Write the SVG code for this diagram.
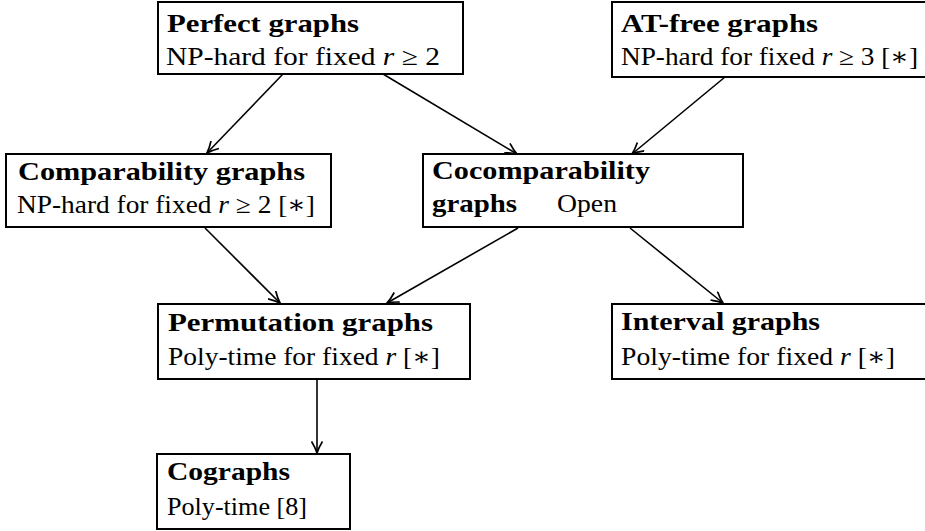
<svg xmlns="http://www.w3.org/2000/svg" width="925" height="531" viewBox="0 0 925 531">
<defs>
<style>
.box{fill:#fff;stroke:#000;stroke-width:2}
.t{font-family:"Liberation Serif","DejaVu Serif",serif;font-size:25px;fill:#000}
.b{font-weight:bold}
.e{stroke:#000;stroke-width:1.6;fill:none;marker-end:url(#ah)}
</style>
<marker id="ah" viewBox="0 0 13 12" refX="12" refY="6" markerWidth="13" markerHeight="12" markerUnits="userSpaceOnUse" orient="auto">
<path d="M0.5,0.5 Q7,4.5 12,6 Q7,7.5 0.5,11.5" fill="none" stroke="#000" stroke-width="1.7"/>
</marker>
</defs>
<rect width="925" height="531" fill="#fff"/>
<g id="connectors">
<line class="e" x1="283" y1="74" x2="207" y2="153"/>
<line class="e" x1="383" y1="74" x2="517" y2="154"/>
<line class="e" x1="725" y1="77" x2="632" y2="154"/>
<line class="e" x1="205" y1="228" x2="280" y2="303"/>
<line class="e" x1="518" y1="228" x2="387" y2="303"/>
<line class="e" x1="630" y1="228" x2="723" y2="303"/>
<line class="e" x1="317" y1="380" x2="317" y2="453"/>
</g>
<g id="perfect">
<rect class="box" x="158" y="2" width="305" height="72"/>
<text class="t b" x="167" y="32" textLength="192" lengthAdjust="spacingAndGlyphs">Perfect graphs</text>
<text class="t" x="166" y="65" textLength="274" lengthAdjust="spacingAndGlyphs">NP-hard for fixed <tspan font-style="italic">r</tspan> ≥ 2</text>
</g>
<g id="atfree">
<rect class="box" x="612" y="2" width="320" height="75"/>
<text class="t b" x="621" y="32" textLength="197" lengthAdjust="spacingAndGlyphs">AT-free graphs</text>
<text class="t" x="621" y="65" textLength="297" lengthAdjust="spacingAndGlyphs">NP-hard for fixed <tspan font-style="italic">r</tspan> ≥ 3 [∗]</text>
</g>
<g id="comparability">
<rect class="box" x="6" y="154" width="325" height="73"/>
<text class="t b" x="18" y="180" textLength="287" lengthAdjust="spacingAndGlyphs">Comparability graphs</text>
<text class="t" x="17" y="213" textLength="298" lengthAdjust="spacingAndGlyphs">NP-hard for fixed <tspan font-style="italic">r</tspan> ≥ 2 [∗]</text>
</g>
<g id="cocomparability">
<rect class="box" x="423" y="154" width="320" height="73"/>
<text class="t b" x="432" y="179" textLength="218" lengthAdjust="spacingAndGlyphs">Cocomparability</text>
<text class="t b" x="432" y="212" textLength="85" lengthAdjust="spacingAndGlyphs">graphs</text>
<text class="t" x="557" y="212" textLength="60" lengthAdjust="spacingAndGlyphs">Open</text>
</g>
<g id="permutation">
<rect class="box" x="158" y="304" width="312" height="75"/>
<text class="t b" x="168" y="331" textLength="265" lengthAdjust="spacingAndGlyphs">Permutation graphs</text>
<text class="t" x="168" y="365" textLength="272" lengthAdjust="spacingAndGlyphs">Poly-time for fixed <tspan font-style="italic">r</tspan> [∗]</text>
</g>
<g id="interval">
<rect class="box" x="612" y="304" width="320" height="75"/>
<text class="t b" x="621" y="330" textLength="199" lengthAdjust="spacingAndGlyphs">Interval graphs</text>
<text class="t" x="621" y="365" textLength="274" lengthAdjust="spacingAndGlyphs">Poly-time for fixed <tspan font-style="italic">r</tspan> [∗]</text>
</g>
<g id="cographs">
<rect class="box" x="157" y="454" width="193" height="75"/>
<text class="t b" x="167" y="480" textLength="123" lengthAdjust="spacingAndGlyphs">Cographs</text>
<text class="t" x="167" y="515" textLength="140" lengthAdjust="spacingAndGlyphs">Poly-time [8]</text>
</g>
</svg>
